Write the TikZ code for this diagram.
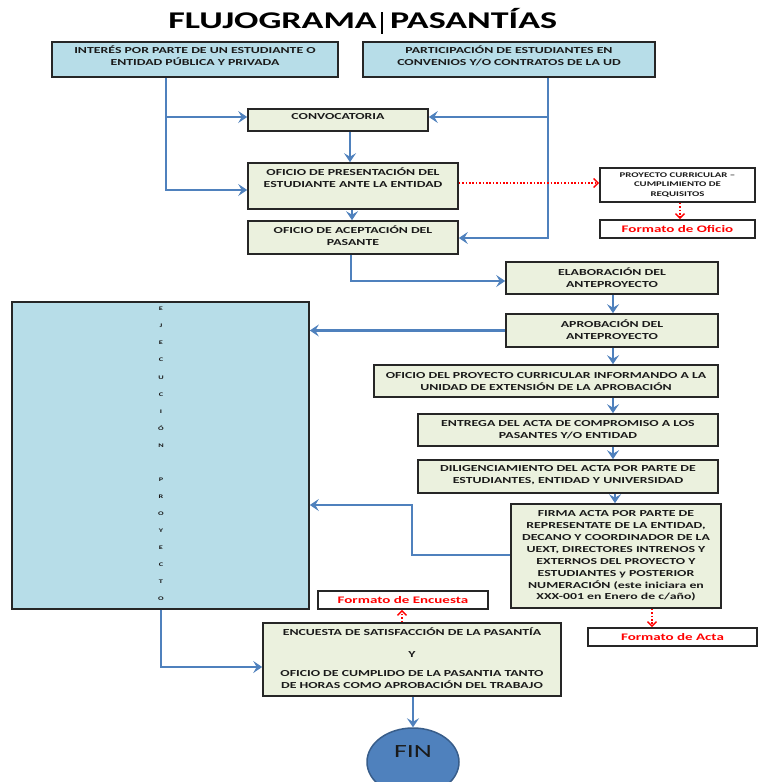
\documentclass[tikz,border=0pt]{standalone}
\usepackage{fontspec}
\setmainfont{Carlito}[FakeStretch=1.5]
\usetikzlibrary{arrows.meta,fit,shapes.geometric}

\definecolor{boxblue}{HTML}{B7DDE8}
\definecolor{boxgreen}{HTML}{EBF1DE}
\definecolor{linkblue}{HTML}{4F81BD}
\definecolor{finedge}{HTML}{385D8A}
\definecolor{ink}{HTML}{1A1A1A}
\definecolor{refred}{HTML}{FF0000}

\tikzset{
  frame/.style={draw=black!85, line width=1.6pt, inner sep=0pt},
  bluebox/.style={frame, fill=boxblue},
  greenbox/.style={frame, fill=boxgreen},
  whitebox/.style={frame, fill=white},
  txt/.style={font=\bfseries\fontsize{9.2}{12.1}\selectfont, align=center, text=ink, inner sep=0pt},
  smalltxt/.style={font=\bfseries\fontsize{7.2}{9.6}\selectfont, align=center, text=ink, inner sep=0pt},
  redtxt/.style={font=\bfseries\fontsize{10}{12}\selectfont, align=center, text=refred, inner sep=0pt},
  link/.style={draw=linkblue, line width=2.6pt, -{Stealth[length=9pt,width=12pt,inset=3.5pt]}},
  reflink/.style={draw=refred, line width=1.4pt, dash pattern=on 1.6pt off 1.8pt,
    -{Straight Barb[length=4.5pt,width=9pt,line width=1.4pt]}},
}

\begin{document}
\begin{tikzpicture}[x=1pt, y=-1pt]
\useasboundingbox (0,0) rectangle (763,782);

% title
\node[font=\bfseries\fontsize{24}{24}\selectfont, anchor=base east, inner sep=0pt] (t1) at (377,28) {FLUJOGRAMA};
\node[font=\bfseries\fontsize{24}{24}\selectfont, anchor=base west, inner sep=0pt] (t2) at (390,28) {PASANTÍAS};
\draw[line width=1.4pt] (382,12) -- (382,34);

% boxes
\node[bluebox, fit={(52,42) (338,77)}] (boxA) {};
\node[bluebox, fit={(363,42) (655,77)}] (boxB) {};
\node[greenbox, fit={(248,109) (428,131)}] (conv) {};
\node[greenbox, fit={(248,163) (458,209)}] (pres) {};
\node[greenbox, fit={(248,221) (458,254)}] (acep) {};
\node[whitebox, fit={(600,168) (755,202)}] (proy) {};
\node[whitebox, fit={(600,220) (755,238)}] (foficio) {};
\node[greenbox, fit={(506,262) (718,294)}] (elab) {};
\node[greenbox, fit={(506,314) (718,347)}] (aprob) {};
\node[greenbox, fit={(374,365) (718,397)}] (ofic) {};
\node[greenbox, fit={(418,414) (718,446)}] (entr) {};
\node[greenbox, fit={(418,460) (718,493)}] (dilig) {};
\node[greenbox, fit={(511,504) (721,608)}] (firma) {};
\node[bluebox, fit={(12,302) (309,609)}] (ejec) {};
\node[whitebox, fit={(318,591) (488,609)}] (fenc) {};
\node[whitebox, fit={(588,628) (757,646)}] (facta) {};
\node[greenbox, fit={(263,623) (561,696)}] (encu) {};
\node[ellipse, draw=finedge, line width=1.5pt, fill=linkblue, minimum width=92pt, minimum height=68pt, inner sep=0pt] (fin) at (413,762) {};

% texts
\node[txt] at (195,56) {INTERÉS POR PARTE DE UN ESTUDIANTE O\\ENTIDAD PÚBLICA Y PRIVADA};
\node[txt] at (509,56) {PARTICIPACIÓN DE ESTUDIANTES EN\\CONVENIOS Y/O CONTRATOS DE LA UD};
\node[txt] at (338,117) {CONVOCATORIA};
\node[txt] at (353,178) {OFICIO DE PRESENTACIÓN DEL\\ESTUDIANTE ANTE LA ENTIDAD};
\node[txt] at (353,235.5) {OFICIO DE ACEPTACIÓN DEL\\PASANTE};
\node[smalltxt] at (677.5,185) {PROYECTO CURRICULAR –\\CUMPLIMIENTO DE\\REQUISITOS};
\node[redtxt] at (677.5,229) {Formato de Oficio};
\node[txt] at (612,278) {ELABORACIÓN DEL\\ANTEPROYECTO};
\node[txt] at (612,329.5) {APROBACIÓN DEL\\ANTEPROYECTO};
\node[txt] at (546,381.5) {OFICIO DEL PROYECTO CURRICULAR INFORMANDO A LA\\UNIDAD DE EXTENSIÓN DE LA APROBACIÓN};
\node[txt] at (568,429.5) {ENTREGA DEL ACTA DE COMPROMISO A LOS\\PASANTES Y/O ENTIDAD};
\node[txt] at (568,475.5) {DILIGENCIAMIENTO DEL ACTA POR PARTE DE\\ESTUDIANTES, ENTIDAD Y UNIVERSIDAD};
\node[txt, font=\bfseries\fontsize{9.2}{11.9}\selectfont] at (616,556) {FIRMA ACTA POR PARTE DE\\REPRESENTATE DE LA ENTIDAD,\\DECANO Y COORDINADOR DE LA\\UEXT, DIRECTORES INTRENOS Y\\EXTERNOS DEL PROYECTO Y\\ESTUDIANTES y POSTERIOR\\NUMERACIÓN (este iniciara en\\XXX-001 en Enero de c/año)};
\node[txt, font=\bfseries\fontsize{5.5}{17.06}\selectfont] at (161,454) {E\\J\\E\\C\\U\\C\\I\\Ó\\N\\[17.06pt]P\\R\\O\\Y\\E\\C\\T\\O};
\node[redtxt] at (403,600) {Formato de Encuesta};
\node[redtxt] at (672.5,637) {Formato de Acta};
\node[txt] at (412,658.5) {ENCUESTA DE SATISFACCIÓN DE LA PASANTÍA\\[10pt]Y\\[7pt]OFICIO DE CUMPLIDO DE LA PASANTIA TANTO\\DE HORAS COMO APROBACIÓN DEL TRABAJO};
\node[font=\fontsize{18.6}{20}\selectfont, text=ink, inner sep=0pt] at (413,752) {FIN};

% bend points of the connectors
\coordinate (a1) at (166,117);
\coordinate (a2) at (166,190);
\coordinate (b1) at (548,117);
\coordinate (b2) at (548,238);
\coordinate (c1) at (350,0);
\coordinate (c2) at (352,0);
\coordinate (d1) at (351,281);
\coordinate (col) at (613,0);
\coordinate (col2) at (615,0);
\coordinate (f1) at (412,555);
\coordinate (f2) at (412,505);
\coordinate (g1) at (161,667);
\coordinate (r1) at (0,183);
\coordinate (r2) at (680,0);
\coordinate (r3) at (652,0);
\coordinate (r4) at (402,0);

% main flow
\draw[link] (boxA.south -| a1) |- (pres.west |- a2);
\draw[link] (a1) -- (conv.west |- a1);
\draw[link] (boxB.south -| b1) |- (acep.east |- b2);
\draw[link] (b1) -- (conv.east |- b1);
\draw[link] (conv.south -| c1) -- (pres.north -| c1);
\draw[link] (pres.south -| c2) -- (acep.north -| c2);
\draw[link] (acep.south -| d1) |- (elab.west |- d1);
\draw[link] (elab.south -| col) -- (aprob.north -| col);
\draw[link] (aprob.west) -- (ejec.east |- aprob.west);
\draw[link] (aprob.south -| col) -- (ofic.north -| col);
\draw[link] (ofic.south -| col) -- (entr.north -| col);
\draw[link] (entr.south -| col) -- (dilig.north -| col);
\draw[link] (dilig.south -| col2) -- (firma.north -| col2);
\draw[link] (firma.west |- f1) -- (f1) -- (f2) -- (ejec.east |- f2);
\draw[link] (ejec.south -| g1) |- (encu.west |- g1);
\draw[link] (encu.south -| fin) -- (fin.north);

% references to formats
\draw[reflink] (pres.east |- r1) -- (proy.west |- r1);
\draw[reflink] (proy.south -| r2) -- (foficio.north -| r2);
\draw[reflink] (firma.south -| r3) -- (facta.north -| r3);
\draw[reflink] (encu.north -| r4) -- (fenc.south -| r4);
\end{tikzpicture}
\end{document}
